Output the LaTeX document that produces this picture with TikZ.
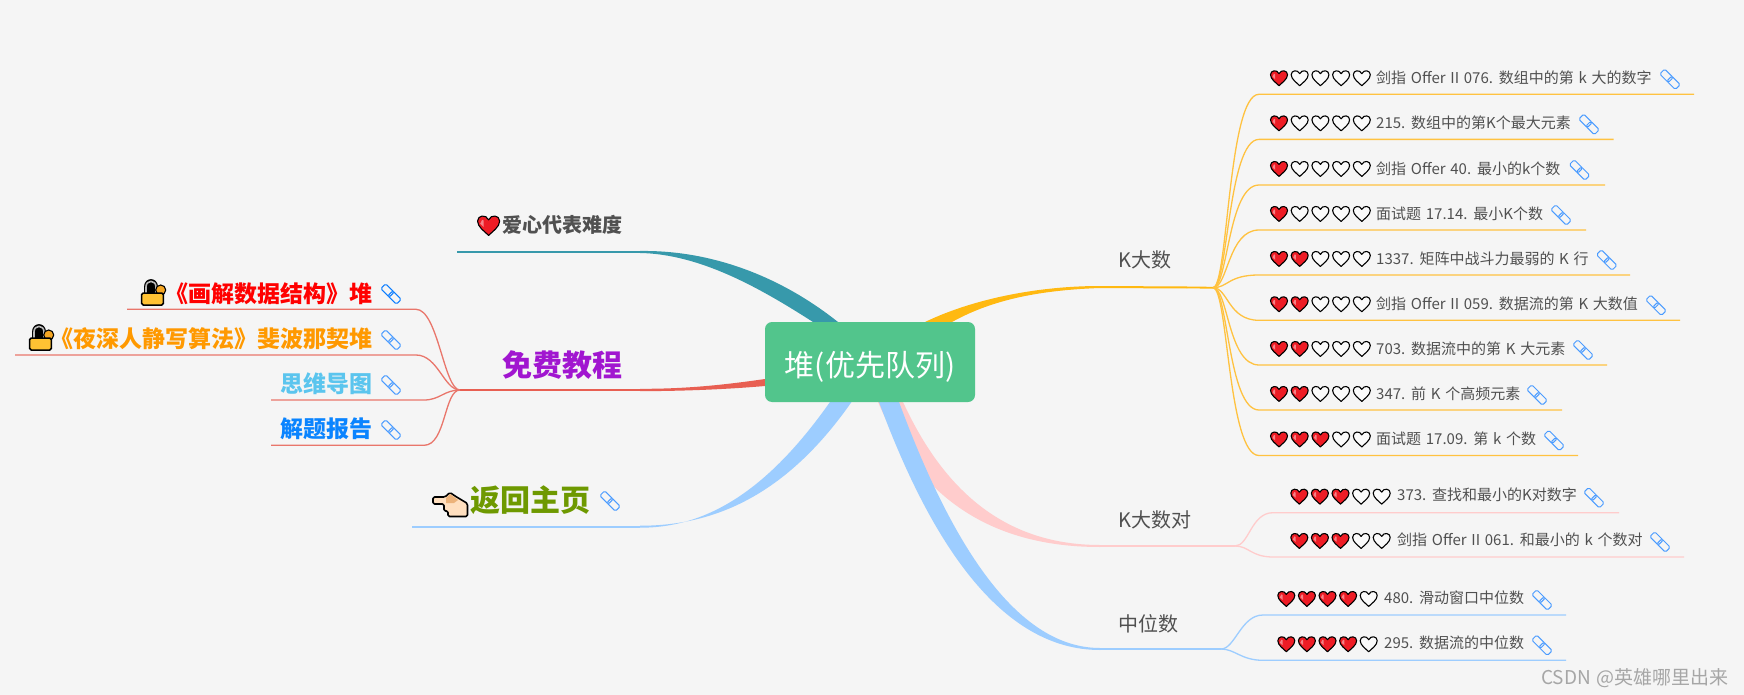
\documentclass[tikz,border=0pt]{standalone}
\usepackage{xcolor}
\usepackage{fontspec}
\setmainfont[WordSpace=1.4]{Noto Sans CJK SC}
\usepackage{tikz}
\usetikzlibrary{positioning,%
  backgrounds,%
  calc%
}
\definecolor{pagebg}{HTML}{F5F5F5}
\definecolor{rootgreen}{HTML}{52C58C}
\definecolor{tealbr}{HTML}{3799AB}
\definecolor{redbr}{HTML}{E85F52}
\definecolor{redthin}{HTML}{E9766B}
\definecolor{goldbr}{HTML}{FFB911}
\definecolor{goldthin}{HTML}{FFC240}
\definecolor{pinkbr}{HTML}{FFCCCC}
\definecolor{bluebr}{HTML}{9DCDFF}
\definecolor{textgray}{HTML}{505050}
\definecolor{heartred}{HTML}{EE1C25}
\definecolor{heartempty}{HTML}{FAFAFA}
\definecolor{linkblue}{HTML}{4A9BFF}
\definecolor{linkdark}{HTML}{0A7CFF}
\definecolor{lockbody}{HTML}{FFC233}
\definecolor{lockknob}{HTML}{F5A623}
\tikzset{
  lbl/.style={inner sep=0pt},
  leaftext/.style={lbl,anchor=west,text=textgray,text height=13.2pt,text depth=1.8pt,font=\fontsize{15}{18}\selectfont},
  subtext/.style={lbl,anchor=west,text=textgray,text height=17.6pt,text depth=2.4pt,font=\fontsize{20}{24}\selectfont},
  tuttext/.style={lbl,anchor=east,text height=20.2pt,text depth=2.8pt,font=\fontsize{23}{27}\selectfont\bfseries},
  bigtext/.style={lbl,text height=26.4pt,text depth=3.6pt,font=\fontsize{30}{36}\selectfont\bfseries},
  goldline/.style={goldthin,line width=1.3pt},
  pinkline/.style={pinkbr,line width=1.3pt},
  blueline/.style={bluebr,line width=1.3pt},
  redline/.style={redthin,line width=1.3pt},
  heart/.pic={
    \path[fill=#1,draw=black,line width=1.1pt,line join=round] (0,8) .. controls (-3,5) and (-8.5,1.5) .. (-8.5,-3)
      .. controls (-8.5,-7.5) and (-2,-8.5) .. (0,-4) .. controls (2,-8.5) and (8.5,-7.5) .. (8.5,-3)
      .. controls (8.5,1.5) and (3,5) .. (0,8) -- cycle;
    \fill[white,opacity=.45] (-6.5,-1) -- (-5,-4) -- (-3.8,-3.5) -- (-3.8,1.5) -- cycle;
  },
  linkicon/.pic={
    \begin{scope}[rotate=-45]
      \draw[#1,line width=1pt,rounded corners=1.5pt] (-11,-3.5) rectangle (1,3.5);
      \draw[#1,line width=1pt,rounded corners=1.5pt] (-1,-3.5) rectangle (11,3.5);
    \end{scope}
  },
  lockicon/.pic={
    \fill[black] (-9,2) -- (-9,-6) .. controls (-9,-16.5) and (5,-16.5) .. (5,-6) -- (5,2) -- cycle;
    \draw[gray!55,line width=1.6pt] (-7,2) -- (-7,-6) .. controls (-7,-13.5) and (3,-13.5) .. (3,-6) -- (3,2);
    \draw[black,fill=lockknob,line width=1.1pt] (7.7,-3) circle (5);
    \draw[black,fill=lockbody,line width=1.5pt,rounded corners=1.5pt] (-11.3,0) rectangle (10.3,12);
  },
  handicon/.pic={
    \path[fill=orange!25!white,draw=black,line width=1.6pt,line join=round,rounded corners=1.5pt]
      (-17,-8) -- (-5,-8) -- (0,-12.5) -- (5,-9) -- (17.5,-1.5) -- (17.5,11.5) -- (-2,11.5)
      -- (-2,6) -- (-6,6) -- (-6,-1) -- (-17,-1) -- cycle;
    \fill[brown!50!orange!60!white] (-4,-7) -- (0,-11) -- (8,-5) -- (4,-2) -- (-4,-2) -- cycle;
  }
}
\begin{document}
\begin{tikzpicture}[x=1pt,y=-1pt]
    \useasboundingbox (0,0) rectangle (1744,695);
    \node[fill=rootgreen,rounded corners=7pt,minimum width=210pt,minimum height=80pt,inner sep=0pt,
      text=white,text height=30pt,text depth=1.2pt,font=\fontsize{30}{36}\selectfont] (root) at (870,362) {堆(优先队列)};

    % main branch ends
    \coordinate (tealjoin) at (640,252);
    \coordinate (redjoin) at (640,390);
    \coordinate (lbluejoin) at (640,526.7);
    \coordinate (goldjoin) at (1100,287);
    \coordinate (pinkjoin) at (1100,546);
    \coordinate (bluejoin) at (1100,649);

    \begin{scope}[on background layer]
        \fill[pagebg] (0,0) rectangle (1744,695);
        \fill[pinkbr] (903,402) .. controls (938,478) and (995,545) .. ($(pinkjoin)+(0,-1)$)
          -- ($(pinkjoin)+(0,1)$) .. controls (975,547) and (912,482) .. (878,402) -- (root.center) -- cycle;
        \fill[tealbr] (838,322) .. controls (775,272) and (705,250) .. ($(tealjoin)+(0,-1)$)
          -- ($(tealjoin)+(0,1)$) .. controls (700,254) and (760,288) .. (813,322) -- (root.center) -- cycle;
        \fill[redbr] (765,379) .. controls (730,384) and (690,389) .. ($(redjoin)+(0,-1.2)$)
          -- ($(redjoin)+(0,1.2)$) .. controls (690,391) and (730,389) .. (765,386) -- (root.center) -- cycle;
        \fill[bluebr] (851.5,402) .. controls (790,490) and (720,526) .. ($(lbluejoin)+(0,-1)$)
          -- ($(lbluejoin)+(0,1)$) .. controls (715,528) and (775,480) .. (830,402) -- (root.center) -- cycle;
        \fill[goldbr] (925,322) .. controls (975,298) and (1040,286) .. ($(goldjoin)+(0,-1)$)
          -- ($(goldjoin)+(0,1)$) .. controls (1045,290) and (995,298) .. (952,322) -- (root.center) -- cycle;
        \fill[bluebr] (899,402) .. controls (950,540) and (1015,648) .. ($(bluejoin)+(0,-1)$)
          -- ($(bluejoin)+(0,1)$) .. controls (1000,650) and (930,540) .. (879,402) -- (root.center) -- cycle;
    \end{scope}

    % left side
    \coordinate (tealstart) at (457,252);
    \draw[tealbr,line width=2.2pt] (tealstart) -- (tealjoin);
    \pic[scale=1.3] at (488.6,225) {heart=heartred};
    \node[lbl,anchor=east,text=textgray,text height=17.6pt,text depth=2.4pt,font=\fontsize{20}{24}\selectfont\bfseries] (difflabel) at (623,225) {爱心代表难度};

    \coordinate (redj) at (460,390);
    \draw[redbr,line width=2.4pt] (redj) -- (redjoin);
    \node[bigtext,anchor=east,text={rgb,255:red,161;green,22;blue,208}] (tutorial) at (623,365) {免费教程};

    \coordinate (tuta) at (416,309.3);
    \coordinate (tutb) at (416,355);
    \coordinate (tutc) at (424,400);
    \coordinate (tutd) at (424,445.3);
    \coordinate (tuta end) at (127,309.3);
    \coordinate (tutb end) at (15,355);
    \coordinate (tutc end) at (271,400);
    \coordinate (tutd end) at (271,445.3);
    \draw[redline] (redj) .. controls +(-16,0) and +(22,0) .. (tuta) -- (tuta end);
    \draw[redline] (redj) .. controls +(-16,0) and +(22,0) .. (tutb) -- (tutb end);
    \draw[redline] (redj) .. controls +(-16,0) and +(16,0) .. (tutc) -- (tutc end);
    \draw[redline] (redj) .. controls +(-16,0) and +(22,0) .. (tutd) -- (tutd end);

    \node[tuttext,text=red] (hbook) at (373,294) {《画解数据结构》堆};
    \node[tuttext,text={rgb,255:red,255;green,153;blue,0}] (nbook) at (373,339) {《夜深人静写算法》斐波那契堆};
    \node[tuttext,text={rgb,255:red,91;green,197;blue,238}] (mindmap) at (373,384) {思维导图};
    \node[tuttext,text={rgb,255:red,10;green,132;blue,255}] (report) at (373,429) {解题报告};
    \pic at (153,293) {lockicon};
    \pic at (41,338) {lockicon};
    \pic at (391,294) {linkicon=linkdark};
    \pic at (391,340) {linkicon=linkblue};
    \pic at (391,385) {linkicon=linkblue};
    \pic at (391,430) {linkicon=linkblue};

    \coordinate (homestart) at (412,526.7);
    \draw[bluebr,line width=2pt] (homestart) -- (lbluejoin);
    \pic at (450,505) {handicon};
    \node[bigtext,anchor=west,text={rgb,255:red,110;green,153;blue,0}] (home) at (470,500) {返回主页};
    \pic at (610,501) {linkicon=linkblue};

    % right side
    \coordinate (kmid) at (1187,287.5);
    \coordinate (kj) at (1213,287.7);
    \draw[goldbr,line width=2pt] (goldjoin) -- (kmid);
    \draw[goldbr,line width=1.8pt] (kmid) -- (kj);
    \node[subtext] (ktop) at (1118,260) {K大数};

    \coordinate (pmid) at (1207,546);
    \coordinate (pj) at (1235,546);
    \draw[pinkbr,line width=2pt] (pinkjoin) -- (pmid);
    \draw[pinkbr,line width=1.6pt] (pmid) -- (pj);
    \node[subtext] (kpair) at (1118,520) {K大数对};

    \coordinate (bmid) at (1194,649);
    \coordinate (bj) at (1221,649);
    \draw[bluebr,line width=2pt] (bluejoin) -- (bmid);
    \draw[bluebr,line width=1.6pt] (bmid) -- (bj);
    \node[subtext] (median) at (1118,623.5) {中位数};

    \foreach \rid/\rowy/\xend/\lnkx/\hrt/\txt in {
      a/94.3/1694/1670/1/{剑指 Offer II 076. 数组中的第 k 大的数字},
      b/139.4/1613.6/1589/1/{215. 数组中的第K个最大元素},
      c/185/1605/1579.5/1/{剑指 Offer 40. 最小的k个数},
      d/230/1586/1561/1/{面试题 17.14. 最小K个数},
      e/275/1630/1606.7/2/{1337. 矩阵中战斗力最弱的 K 行},
      f/320.3/1680/1656/2/{剑指 Offer II 059. 数据流的第 K 大数值},
      g/365/1607/1583/2/{703. 数据流中的第 K 大元素},
      h/410/1562/1537/2/{347. 前 K 个高频元素},
      i/455.5/1578/1554/3/{面试题 17.09. 第 k 个数}} {
        \coordinate (ks\rid) at (1259,\rowy);
        \coordinate (ke\rid) at (\xend,\rowy);
        \draw[goldline] (kj) .. controls +(15,0) and +(-31,0) .. (ks\rid) -- (ke\rid);
        \node[leaftext] (kt\rid) at (1376,\rowy-16.6) {\txt};
        \pic at (\lnkx,\rowy-15) {linkicon=linkblue};
        \foreach \h in {1,...,5} {
            \ifnum\h>\hrt\def\hcol{heartempty}\else\def\hcol{heartred}\fi
            \pic at ({1279+20.7*(\h-1)},\rowy-16.6) {heart=\hcol};
        }
    }

    \foreach \rid/\rowy/\xend/\lnkx/\hrt/\txt in {
      a/512.7/1619/1594/3/{373. 查找和最小的K对数字},
      b/557/1684/1660/3/{剑指 Offer II 061. 和最小的 k 个数对}} {
        \coordinate (ps\rid) at (1273,\rowy);
        \coordinate (pe\rid) at (\xend,\rowy);
        \draw[pinkline] (pj) .. controls +(14,0) and +(-22,0) .. (ps\rid) -- (pe\rid);
        \node[leaftext] (pt\rid) at (1397,\rowy-17.6) {\txt};
        \pic at (\lnkx,\rowy-15) {linkicon=linkblue};
        \foreach \h in {1,...,5} {
            \ifnum\h>\hrt\def\hcol{heartempty}\else\def\hcol{heartred}\fi
            \pic at ({1299.3+20.6*(\h-1)},\rowy-16.6) {heart=\hcol};
        }
    }

    \foreach \rid/\rowy/\xend/\lnkx/\hrt/\txt in {
      a/615/1566/1542/4/{480. 滑动窗口中位数},
      b/660.3/1566/1542/4/{295. 数据流的中位数}} {
        \coordinate (ms\rid) at (1263,\rowy);
        \coordinate (me\rid) at (\xend,\rowy);
        \draw[blueline] (bj) .. controls +(14,0) and +(-22,0) .. (ms\rid) -- (me\rid);
        \node[leaftext] (mt\rid) at (1384,\rowy-17.6) {\txt};
        \pic at (\lnkx,\rowy-15) {linkicon=linkblue};
        \foreach \h in {1,...,5} {
            \ifnum\h>\hrt\def\hcol{heartempty}\else\def\hcol{heartred}\fi
            \pic at ({1286.3+20.6*(\h-1)},\rowy-16.6) {heart=\hcol};
        }
    }

    \node[lbl,anchor=east,text=black!35,text height=16.7pt,text depth=2.3pt,font=\fontsize{19}{23}\selectfont] (mark) at (1729,677) {CSDN @英雄哪里出来};
\end{tikzpicture}
\end{document}
